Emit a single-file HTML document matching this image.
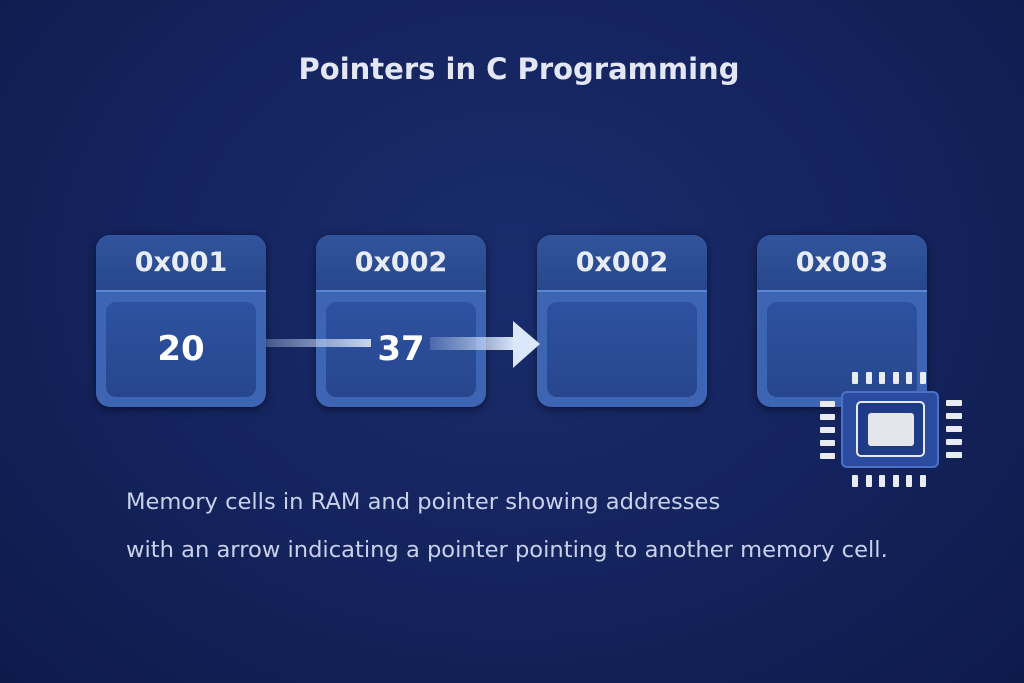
<!DOCTYPE html>
<html><head><meta charset="utf-8"><style>
body{margin:0;width:1024px;height:683px;overflow:hidden;background:radial-gradient(ellipse at 50% 40%,#1a2c6c 0%,#14235d 55%,#0e1a4a 100%);font-family:"Liberation Sans","DejaVu Sans",sans-serif;position:relative}
.t{position:absolute;left:0;width:1038px;top:52px;text-align:center;color:#e3e7f3;font-size:29px;font-weight:bold;font-family:"DejaVu Sans",sans-serif}
.cell{position:absolute;top:235px;width:170px;height:172px;border-radius:14px;background:#3e65b4;box-shadow:0 2px 8px rgba(0,0,0,.5);overflow:hidden}
.hd{height:55px;background:linear-gradient(#31549c,#28478c);border-bottom:2px solid #5b86d2;color:#e8ecf5;font:bold 27px "DejaVu Sans",sans-serif;text-align:center;line-height:56px}
.in{position:absolute;left:10px;top:67px;width:150px;height:95px;border-radius:10px;background:linear-gradient(#2e52a0,#27468f);color:#fff;font:bold 34px "DejaVu Sans",sans-serif;text-align:center;line-height:95px}
.cap{position:absolute;left:126px;color:#c9d1ea;font-size:22.6px;font-family:"DejaVu Sans",sans-serif;white-space:nowrap}
</style></head><body>
<div class="t">Pointers in C Programming</div>
<div class="cell" style="left:96px"><div class="hd">0x001</div><div class="in">20</div></div>
<div class="cell" style="left:316px"><div class="hd">0x002</div><div class="in">37</div></div>
<div class="cell" style="left:537px"><div class="hd">0x002</div><div class="in"></div></div>
<div class="cell" style="left:757px"><div class="hd">0x003</div><div class="in"></div></div>
<svg width="1024" height="683" style="position:absolute;left:0;top:0">
<defs>
<linearGradient id="g1" x1="0" x2="1"><stop offset="0" stop-color="#b8cdf0" stop-opacity=".3"/><stop offset="1" stop-color="#d8e4f8" stop-opacity=".9"/></linearGradient>
<linearGradient id="g2" x1="0" x2="1"><stop offset="0" stop-color="#c8daf5" stop-opacity=".2"/><stop offset="1" stop-color="#d9e6fa"/></linearGradient>
</defs>
<rect x="266" y="339" width="105" height="8" fill="url(#g1)"/>
<rect x="430" y="337" width="85" height="13" fill="url(#g2)"/>
<polygon points="513,321 540,344 513,368" fill="#dbe7fb"/>
<g fill="#e8ebf2">
<rect x="852" y="372" width="6" height="12" rx="1"/><rect x="866" y="372" width="6" height="12" rx="1"/><rect x="879" y="372" width="6" height="12" rx="1"/><rect x="893" y="372" width="6" height="12" rx="1"/><rect x="906" y="372" width="6" height="12" rx="1"/><rect x="920" y="372" width="6" height="12" rx="1"/>
<rect x="852" y="475" width="6" height="12" rx="1"/><rect x="866" y="475" width="6" height="12" rx="1"/><rect x="879" y="475" width="6" height="12" rx="1"/><rect x="893" y="475" width="6" height="12" rx="1"/><rect x="906" y="475" width="6" height="12" rx="1"/><rect x="920" y="475" width="6" height="12" rx="1"/>
<rect x="820" y="401" width="15" height="6" rx="1"/><rect x="820" y="414" width="15" height="6" rx="1"/><rect x="820" y="427" width="15" height="6" rx="1"/><rect x="820" y="440" width="15" height="6" rx="1"/><rect x="820" y="453" width="15" height="6" rx="1"/>
<rect x="946" y="400" width="16" height="6" rx="1"/><rect x="946" y="413" width="16" height="6" rx="1"/><rect x="946" y="426" width="16" height="6" rx="1"/><rect x="946" y="439" width="16" height="6" rx="1"/><rect x="946" y="452" width="16" height="6" rx="1"/>
</g>
<rect x="842" y="392" width="96" height="75" rx="5" fill="#2a4ba0" stroke="#4a72c4" stroke-width="2"/>
<rect x="857" y="402" width="67" height="54" rx="4" fill="#1f3b85" stroke="#e6e9f0" stroke-width="2"/>
<rect x="868" y="413" width="46" height="33" rx="3" fill="#e4e6ec"/>
</svg>
<div class="cap" style="top:489px">Memory cells in RAM and pointer showing addresses</div>
<div class="cap" style="top:537px">with an arrow indicating a pointer pointing to another memory cell.</div>
</body></html>
